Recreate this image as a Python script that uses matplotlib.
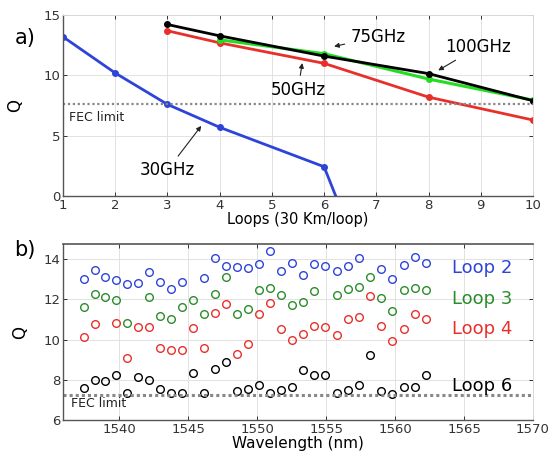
import numpy as np
import matplotlib
matplotlib.use('Agg')
import matplotlib.pyplot as plt

# ---- panel a: Q vs number of loops ----
loops_30 = [1, 2, 3, 4, 6, 8]
q_30 = [13.2, 10.2, 7.6, 5.7, 2.43, -19.3]
loops_50 = [3, 4, 6, 8, 10]
q_50 = [13.7, 12.7, 11.0, 8.2, 6.3]
loops_75 = [4, 6, 8, 10]
q_75 = [12.95, 11.8, 9.7, 7.95]
loops_100 = [3, 4, 6, 8, 10]
q_100 = [14.22, 13.28, 11.6, 10.15, 7.9]
fec_a = 7.6

# ---- panel b: Q vs wavelength ----
wavelength = [1537.40, 1538.19, 1538.98, 1539.77, 1540.56, 1541.35, 1542.14, 1542.94,
              1543.73, 1544.53, 1545.32, 1546.12, 1546.92, 1547.72, 1548.51, 1549.32,
              1550.12, 1550.92, 1551.72, 1552.52, 1553.33, 1554.13, 1554.94, 1555.75,
              1556.55, 1557.36, 1558.17, 1558.98, 1559.79, 1560.61, 1561.42, 1562.23]
nan = np.nan
q_loop2 = [13.0, 13.44, 13.09, 12.94, 12.74, 12.82, 13.37, 12.86, 12.52, 12.84, nan, 13.04,
           14.07, 13.65, 13.62, 13.57, 13.75, 14.4, 13.4, 13.82, 13.2, 13.75, 13.67, 13.4,
           13.65, 14.08, nan, 13.49, 12.99, 13.7, 14.1, 13.8]
q_loop3 = [11.63, 12.29, 12.13, 11.96, 10.8, nan, 12.13, 11.18, 11.0, 11.63, 11.96, 11.28,
           12.26, 13.09, 11.28, 11.51, 12.46, 12.57, 12.2, 11.71, 11.86, 12.41, nan, 12.21,
           12.49, 12.6, 13.1, 12.09, 11.43, 12.46, 12.57, 12.46]
q_loop4 = [10.14, 10.77, nan, 10.8, 9.06, 10.6, 10.63, 9.6, 9.47, 9.47, 10.55, 9.6,
           11.33, 11.76, 9.27, 9.77, 11.26, 11.84, 10.5, 9.97, 10.3, 10.67, 10.63, 10.22,
           11.01, 11.13, 12.16, 10.67, 9.92, 10.5, 11.26, 11.01]
q_loop6 = [7.57, 8.01, 7.95, 8.23, 7.32, 8.15, 8.01, 7.53, 7.35, 7.32, 8.35, 7.32,
           8.53, 8.9, 7.45, 7.53, 7.73, 7.35, 7.48, 7.65, 8.51, 8.23, 8.23, 7.32,
           7.48, 7.73, 9.22, 7.45, 7.28, 7.65, 7.65, 8.23]
fec_b = 7.25

BLUE = '#2e44d8'
GREEN = '#2a8c2a'
RED = '#e8302a'

plt.rcParams['font.family'] = ['DejaVu Sans']

fig = plt.figure(figsize=(5.5, 4.57), dpi=100)
ax1 = fig.add_axes([0.1145, 0.571, 0.8545, 0.396])
ax2 = fig.add_axes([0.1145, 0.081, 0.8545, 0.385])


def style(ax, top_dark=False):
    ax.grid(True, color='#e2e2e2', linewidth=0.7)
    ax.set_axisbelow(True)
    for s in ['left', 'bottom']:
        ax.spines[s].set_color('#555555')
        ax.spines[s].set_linewidth(1.0)
    ax.spines['right'].set_color('#d8d8d8')
    ax.spines['right'].set_linewidth(0.7)
    if top_dark:
        ax.spines['top'].set_color('#555555')
        ax.spines['top'].set_linewidth(1.2)
    else:
        ax.spines['top'].set_color('#d8d8d8')
        ax.spines['top'].set_linewidth(0.7)
    ax.tick_params(direction='in', length=3, width=0.7, top=True, right=True,
                   labelsize=9.5, colors='#333333', pad=2)


# ---------- a) ----------
style(ax1)
ax1.plot(loops_30, q_30, '-o', color=BLUE, lw=2, ms=4)
ax1.plot(loops_50, q_50, '-o', color=RED, lw=2, ms=4)
ax1.plot(loops_75, q_75, '-o', color='#22dd22', lw=2.2, ms=4)
ax1.plot(loops_100, q_100, '-o', color='black', lw=2, ms=4)
ax1.axhline(fec_a, color='#888888', lw=1.6, ls=(0, (1, 1.2)))
ax1.set_xlim(1, 10)
ax1.set_ylim(0, 15)
ax1.set_xticks(range(1, 11))
ax1.set_yticks([0, 5, 10, 15])
ax1.text(1.12, 6.55, 'FEC limit', fontsize=9, color='#222222', va='center')

arrow = dict(arrowstyle='-|>', color='#222222', lw=0.8, mutation_scale=7)
ax1.annotate('75GHz', xy=(6.14, 12.35), xytext=(6.5, 13.2), fontsize=12,
             va='center', ha='left', arrowprops=arrow)
ax1.annotate('50GHz', xy=(5.59, 11.25), xytext=(5.5, 8.8), fontsize=12,
             va='center', ha='center', arrowprops=arrow)
ax1.annotate('100GHz', xy=(8.14, 10.3), xytext=(8.95, 12.35), fontsize=12,
             va='center', ha='center', arrowprops=arrow)
ax1.annotate('30GHz', xy=(3.68, 6.0), xytext=(3.0, 2.15), fontsize=12,
             va='center', ha='center', arrowprops=arrow)
ax1.set_xlabel('Loops (30 Km/loop)', fontsize=10.5, labelpad=0)
ax1.set_ylabel('Q', fontsize=12, labelpad=14)

# ---------- b) ----------
style(ax2, top_dark=True)
mk = dict(ls='none', marker='o', ms=5.5, mfc='none', mew=1.0)
ax2.plot(wavelength, q_loop2, color=BLUE, **mk)
ax2.plot(wavelength, q_loop3, color=GREEN, **mk)
ax2.plot(wavelength, q_loop4, color=RED, **mk)
ax2.plot(wavelength, q_loop6, color='black', **mk)
ax2.axhline(fec_b, color='#888888', lw=2.2, ls=(0, (1, 1)))
ax2.set_xlim(1535.9, 1570)
ax2.set_ylim(6, 14.75)
ax2.set_xticks(range(1540, 1571, 5))
ax2.set_yticks([6, 8, 10, 12, 14])
ax2.text(1536.5, 6.8, 'FEC limit', fontsize=9, color='#222222', va='center')
ax2.text(1564.1, 13.55, 'Loop 2', fontsize=13, color=BLUE, va='center')
ax2.text(1564.1, 12.0, 'Loop 3', fontsize=13, color=GREEN, va='center')
ax2.text(1564.1, 10.5, 'Loop 4', fontsize=13, color=RED, va='center')
ax2.text(1564.1, 7.7, 'Loop 6', fontsize=13, color='black', va='center')
ax2.set_xlabel('Wavelength (nm)', fontsize=11, labelpad=0)
ax2.set_ylabel('Q', fontsize=12, labelpad=10)

fig.text(0.045, 0.917, 'a)', fontsize=15, va='center', ha='center')
fig.text(0.045, 0.453, 'b)', fontsize=15, va='center', ha='center')

fig.savefig('out.png', dpi=100)
